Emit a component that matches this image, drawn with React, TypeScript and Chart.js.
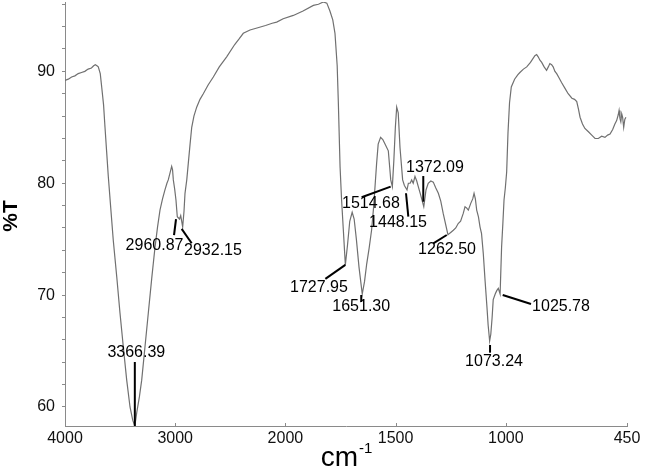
import React, { useEffect, useRef } from "react";
import { Chart, registerables } from "chart.js";

Chart.register(...registerables);

// Spectrum data (wavenumber cm-1, %T)
const WAVENUMBERS = [
  4000, 3970, 3940, 3910, 3880, 3850, 3820, 3790, 3760, 3740, 3725, 3710, 3698, 3680, 3667, 3650, 3637, 3622, 3607, 3585,
  3562, 3530, 3501, 3470, 3440, 3410, 3385, 3366.39, 3349, 3325, 3304, 3275, 3244, 3213, 3183, 3160, 3138, 3115, 3093, 3075,
  3063, 3045, 3032, 3024, 3017, 3005, 2993, 2981, 2975, 2960.87, 2950, 2932.15, 2920, 2911, 2895, 2881, 2865, 2850, 2830, 2805,
  2775, 2745, 2700, 2654, 2600, 2533, 2460, 2420, 2382, 2321, 2250, 2180, 2120, 2079, 2020, 1964, 1920, 1873, 1850, 1828,
  1812, 1798, 1785, 1775, 1765, 1760, 1752, 1745, 1737, 1727.95, 1718, 1708, 1697, 1688, 1678, 1666, 1651.3, 1641, 1631, 1620,
  1609, 1600, 1594, 1586, 1579, 1568, 1558, 1548, 1533, 1527, 1522, 1514.68, 1508, 1501, 1495, 1488, 1480, 1468, 1460, 1448.15,
  1442, 1434, 1427, 1420, 1412, 1404, 1397, 1387, 1372.09, 1362, 1352, 1340, 1329, 1318, 1306, 1295, 1284, 1262.5, 1250, 1238,
  1227, 1216, 1205, 1193, 1185, 1178, 1170, 1159, 1150, 1144, 1138, 1132, 1124, 1117, 1110, 1102, 1094, 1085, 1080, 1073.24,
  1068, 1062, 1057, 1048, 1041, 1034, 1025.78, 1019, 1013, 1008, 1002, 996, 990, 983, 975, 960, 945, 936, 920, 905,
  888, 868, 860, 853, 845, 837, 826, 815, 807, 800, 792, 785, 777, 769, 758, 747, 732, 717, 700, 688,
  678, 670, 663, 652, 641, 625, 610, 595, 580, 565, 550, 538, 527, 515, 505, 497, 490, 486, 482, 478,
  474, 470, 465, 460, 455,
];
const TRANSMITTANCE = [
  89.2, 89.3, 89.5, 89.6, 89.8, 89.9, 90.0, 90.2, 90.3, 90.5, 90.6, 90.5, 90.4, 89.8, 88.6, 87.0, 85.0, 82.8, 80.6, 77.8,
  74.9, 71.6, 68.4, 65.3, 62.4, 60.0, 58.8, 58.3, 59.5, 60.9, 62.4, 65.3, 68.4, 71.5, 74.3, 76.1, 77.6, 78.6, 79.4, 80.0,
  80.3, 81.0, 81.5, 81.2, 80.3, 79.5, 78.5, 77.0, 77.0, 76.8, 77.1, 76.1, 77.5, 79.1, 80.3, 81.8, 83.5, 85.0, 86.0, 86.8,
  87.5, 88.0, 88.8, 89.5, 90.4, 91.3, 92.4, 92.9, 93.4, 93.7, 93.9, 94.1, 94.3, 94.4, 94.7, 95.0, 95.4, 95.9, 96.0, 96.2,
  96.1, 95.4, 94.6, 93.4, 90.5, 87.4, 81.5, 78.5, 75.8, 72.7, 74.5, 76.6, 77.4, 76.8, 75.0, 72.5, 70.1, 71.2, 72.8, 74.2,
  75.8, 77.8, 79.5, 81.8, 83.5, 84.1, 83.9, 83.5, 82.9, 81.5, 80.3, 79.7, 82.0, 85.0, 86.8, 86.3, 83.2, 80.3, 79.8, 79.4,
  80.0, 80.0, 80.3, 80.0, 80.6, 80.2, 79.7, 79.0, 77.9, 79.4, 80.0, 80.2, 80.1, 79.6, 79.1, 78.4, 77.3, 75.4, 75.6, 75.8,
  76.0, 76.4, 76.6, 77.3, 77.9, 77.8, 77.6, 78.2, 78.6, 79.1, 78.6, 77.6, 77.0, 76.1, 75.5, 73.7, 71.3, 68.8, 67.3, 65.9,
  66.5, 68.0, 69.6, 70.1, 70.4, 70.6, 70.1, 74.3, 76.5, 78.5, 79.6, 81.0, 84.5, 87.2, 88.6, 89.3, 89.7, 89.9, 90.2, 90.4,
  90.8, 91.4, 91.5, 91.3, 91.0, 90.8, 90.4, 90.1, 90.4, 90.7, 90.6, 90.4, 90.0, 89.8, 89.4, 89.0, 88.5, 88.0, 87.6, 87.5,
  87.3, 86.6, 85.9, 85.3, 84.9, 84.6, 84.3, 84.0, 84.0, 84.2, 84.1, 84.3, 84.4, 84.8, 85.3, 85.6, 86.1, 86.5, 85.8, 85.5,
  86.2, 85.9, 85.0, 85.7, 85.9,
];

// Peak annotations
const PEAK_LABELS = ["3366.39", "2960.87", "2932.15", "1727.95", "1651.30", "1514.68", "1448.15", "1372.09", "1262.50", "1073.24", "1025.78"];
const PEAK_WN = [3366.39, 2960.87, 2932.15, 1727.95, 1651.3, 1514.68, 1448.15, 1372.09, 1262.5, 1073.24, 1025.78];
const PEAK_T = [58.3, 76.8, 76.1, 72.7, 70.1, 79.7, 79.4, 77.9, 75.4, 65.9, 70.1];

// Axis ticks
const X_TICKS = [4000, 3000, 2000, 1500, 1000, 450];
const Y_TICKS = [60, 62, 64, 66, 68, 70, 72, 74, 76, 78, 80, 82, 84, 86, 88, 90, 92, 94, 96];
const Y_LABELED = [60, 70, 80, 90];

// Layout of annotation leader lines / labels (pixel offsets from the peak point)
const PEAK_LAYOUT: number[][] = [
  [0, 0, 0, -64, 1.5, -73],
  [-3.5, 0, -5.5, 16, -25, 27],
  [-1, 2, 9, 16.4, 30.3, 24.1],
  [0, 0, -20, 14, -26.4, 23],
  [-1, 1, -1, 8, -1, 13],
  [-1.7, 0, -30.7, 10.7, -21.4, 17.4],
  [-1, 3.3, 1.3, 26.7, -9, 33],
  [-0.5, -30.7, -0.5, -5, 11.2, -38.7],
  [-1.2, 0.3, -14.6, 8.6, -0.9, 15.3],
  [0.4, 4, 0.4, 11.7, 4.4, 21],
  [2.6, 1, 30.9, 10, 60.9, 13],
];

// Two-segment wavenumber axis (scale doubles below 2000 cm-1)
const toU = (wn: number) => (wn >= 2000 ? 4000 - wn : 2000 + 2 * (2000 - wn));
const fromU = (u: number) => (u <= 2000 ? 4000 - u : 2000 - (u - 2000) / 2);

const FONT = '"Liberation Sans", Arial, Helvetica, sans-serif';

export default function App() {
  const ref = useRef<HTMLCanvasElement>(null);
  useEffect(() => {
    if (!ref.current) return;
    const annotPlugin = {
      id: "annot",
      afterDraw(chart: any) {
        const { ctx, chartArea, scales } = chart;
        const xs = scales.x;
        const ys = scales.y;
        ctx.save();
        // inward x ticks
        ctx.strokeStyle = "#8a8a8a";
        ctx.lineWidth = 1;
        X_TICKS.forEach((w) => {
          const px = Math.round(xs.getPixelForValue(toU(w))) + 0.5;
          ctx.beginPath();
          ctx.moveTo(px, chartArea.bottom);
          ctx.lineTo(px, chartArea.bottom - 3);
          ctx.stroke();
        });
        // peak labels
        ctx.strokeStyle = "#000";
        ctx.fillStyle = "#000";
        ctx.lineWidth = 2;
        ctx.font = `16px ${FONT}`;
        ctx.textAlign = "center";
        ctx.textBaseline = "middle";
        PEAK_WN.forEach((w, i) => {
          const px = xs.getPixelForValue(toU(w));
          const py = ys.getPixelForValue(PEAK_T[i]);
          const [x1, y1, x2, y2, lx, ly] = PEAK_LAYOUT[i];
          ctx.beginPath();
          ctx.moveTo(px + x1, py + y1);
          ctx.lineTo(px + x2, py + y2);
          ctx.stroke();
          ctx.fillText(PEAK_LABELS[i], px + lx, py + ly);
        });
        // axis titles
        ctx.textAlign = "left";
        ctx.textBaseline = "alphabetic";
        const cx = (chartArea.left + chartArea.right) / 2;
        ctx.font = `28px ${FONT}`;
        const wcm = ctx.measureText("cm").width;
        ctx.font = `15px ${FONT}`;
        const wsup = ctx.measureText("-1").width;
        const start = cx - (wcm + wsup) / 2;
        ctx.font = `28px ${FONT}`;
        ctx.fillText("cm", start, 466);
        ctx.font = `15px ${FONT}`;
        ctx.fillText("-1", start + wcm + 1, 453);
        ctx.translate(11, (chartArea.top + chartArea.bottom) / 2 + 2);
        ctx.rotate(-Math.PI / 2);
        ctx.textAlign = "center";
        ctx.textBaseline = "middle";
        ctx.font = `bold 21px ${FONT}`;
        ctx.fillText("%T", 0, 0);
        ctx.restore();
      },
    };

    const chart = new Chart(ref.current, {
      type: "line",
      data: {
        datasets: [
          {
            data: WAVENUMBERS.map((w, i) => ({ x: toU(w), y: TRANSMITTANCE[i] })),
            borderColor: "#707070",
            borderWidth: 1.2,
            pointRadius: 0,
            tension: 0,
            fill: false,
          },
        ],
      },
      options: {
        animation: false,
        responsive: false,
        devicePixelRatio: 1,
        layout: { padding: { top: 2, right: 34, left: 0, bottom: 0 } },
        plugins: { legend: { display: false }, tooltip: { enabled: false } },
        scales: {
          x: {
            type: "linear",
            min: 0,
            max: toU(450),
            afterBuildTicks: (s: any) => {
              s.ticks = X_TICKS.map((w) => ({ value: toU(w) }));
            },
            afterFit: (s: any) => {
              s.height = 48;
            },
            ticks: {
              autoSkip: false,
              maxRotation: 0,
              padding: 3,
              color: "#111",
              font: { family: FONT, size: 16 },
              callback: (v: any) => String(Math.round(fromU(Number(v)))),
            },
            grid: { display: true, drawOnChartArea: false, drawTicks: false },
            border: { display: true, color: "#8a8a8a", width: 1 },
          },
          y: {
            type: "linear",
            min: 58.3,
            max: 96.2,
            afterBuildTicks: (s: any) => {
              s.ticks = Y_TICKS.map((v) => ({ value: v }));
            },
            afterFit: (s: any) => {
              s.width = 65;
              s.paddingTop = 0;
              s.paddingBottom = 0;
            },
            ticks: {
              autoSkip: false,
              padding: 7,
              color: "#111",
              font: { family: FONT, size: 16 },
              callback: (v: any) => (Y_LABELED.includes(Number(v)) ? String(v) : ""),
            },
            grid: { display: true, drawOnChartArea: false, drawTicks: true, tickLength: 3, color: "#8a8a8a" },
            border: { display: true, color: "#8a8a8a", width: 1 },
          },
        },
      },
      plugins: [annotPlugin],
    });
    return () => chart.destroy();
  }, []);

  return (
    <div style={{ position: "fixed", left: 0, top: 0, width: 661, height: 474, background: "#fff" }}>
      <canvas ref={ref} width={661} height={474} style={{ width: 661, height: 474, display: "block" }} />
    </div>
  );
}
